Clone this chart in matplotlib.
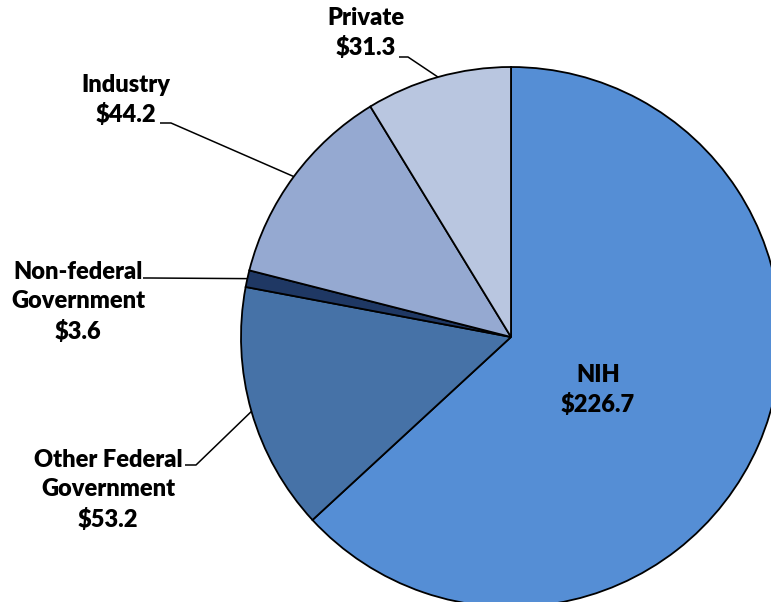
import numpy as np
import matplotlib.pyplot as plt

labels = ["NIH", "Other Federal\nGovernment", "Non-federal\nGovernment", "Industry", "Private"]
values = [226.7, 53.2, 3.6, 44.2, 31.3]
colors = ["#558ED5", "#4672A7", "#1F3864", "#95A9D1", "#B9C6E0"]

W, H = 771, 602
fig = plt.figure(figsize=(W / 100, H / 100), dpi=100)
ax = fig.add_axes([0, 0, 1, 1])

cx, cy, r = 511, H - 337, 270
wedges, _ = ax.pie(values, colors=colors, startangle=90, counterclock=False,
                   center=(cx, cy), radius=r,
                   wedgeprops=dict(edgecolor="black", linewidth=1.3))
ax.set_xlim(0, W)
ax.set_ylim(0, H)
ax.set_aspect("equal")
ax.axis("off")

font = dict(family="Lato", fontweight="heavy", fontsize=17, color="black",
            ha="center", va="center", linespacing=1.39)

# text centre (px, top-down) and leader elbow / end (px)
layout = {
    "Other Federal\nGovernment": ((108, 490), (196, 465), (185, 465)),
    "Non-federal\nGovernment": ((78, 302), (150, 278), (143, 278)),
    "Industry": ((126, 100), (171, 123), (160, 123)),
    "Private": ((366, 33), (408, 57), (399, 57)),
}

for w, lab, val in zip(wedges, labels, values):
    txt = f"{lab}\n${val:.1f}"
    if lab == "NIH":
        ax.text(598, H - 390, txt, **font)
        continue
    (tx, ty), (ex, ey), (hx, hy) = layout[lab]
    ang = np.deg2rad((w.theta1 + w.theta2) / 2)
    px, py = cx + r * np.cos(ang), cy + r * np.sin(ang)
    ax.plot([px, ex, hx], [py, H - ey, H - hy], color="black", lw=1.1,
            solid_capstyle="butt", zorder=0)
    ax.text(tx, H - ty, txt, **font)

fig.savefig("out.png", dpi=100)
